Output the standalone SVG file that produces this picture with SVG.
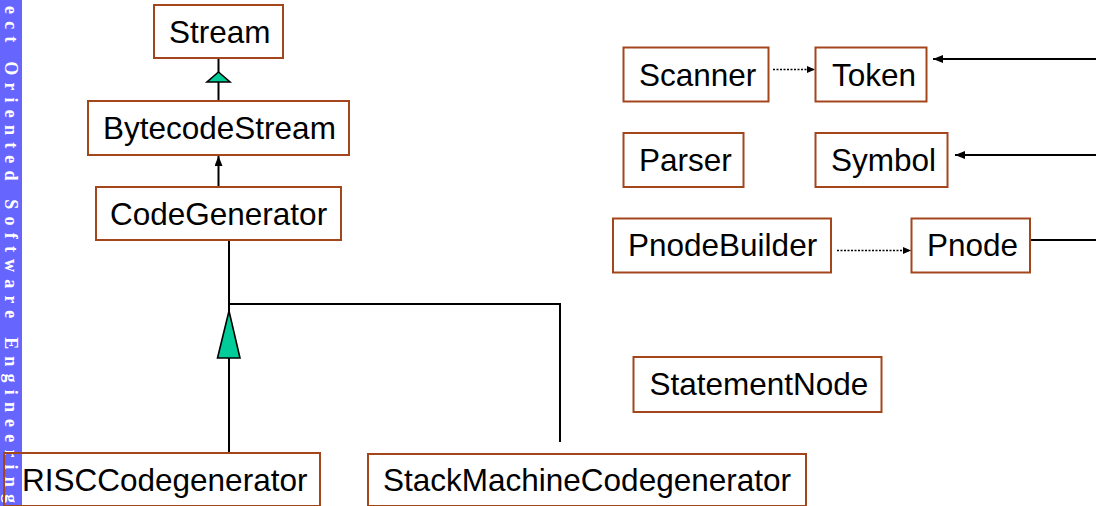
<svg xmlns="http://www.w3.org/2000/svg" width="1096" height="506" viewBox="0 0 1096 506">
<style>
.box{fill:#fff;stroke:#A4461C;stroke-width:2}
.lbl{font-family:"Liberation Sans",Arial,sans-serif;font-size:31.5px;fill:#000}
.ln{fill:none;stroke:#000;stroke-width:2}
.dot{fill:none;stroke:#000;stroke-width:1.5;stroke-dasharray:2,1.5}
.gen{fill:#00CC99;stroke:#000;stroke-width:1.6}
</style>
<defs>
<marker id="ah" markerUnits="userSpaceOnUse" markerWidth="10" markerHeight="8" refX="10" refY="4" orient="auto">
<path d="M0,0 L10,4 L0,8 z" fill="#000"/>
</marker>
<marker id="ahs" markerUnits="userSpaceOnUse" markerWidth="8" markerHeight="7" refX="8" refY="3.5" orient="auto">
<path d="M0,0 L8,3.5 L0,7 z" fill="#000"/>
</marker>
</defs>
<rect x="0" y="0" width="22" height="506" fill="#6666FF"/>
<text transform="rotate(90)" x="6" y="-4.5" textLength="497" lengthAdjust="spacing" font-family="'Liberation Serif',serif" font-weight="bold" font-size="18" fill="#fff">ect Oriented Software Engineering</text>
<g id="connectors">
<line class="ln" x1="218.5" y1="58" x2="218.5" y2="101"/>
<polygon class="gen" points="218.5,72 230,82 207,82"/>
<line class="ln" x1="218.5" y1="187" x2="218.5" y2="156" marker-end="url(#ah)"/>
<polyline class="ln" points="229,240 229,304 560,304 560,442"/>
<line class="ln" x1="229" y1="304" x2="229" y2="453"/>
<polygon class="gen" points="229,311 240,358 217.5,358"/>
<line class="dot" x1="773" y1="69.5" x2="815" y2="69.5" marker-end="url(#ahs)"/>
<line class="dot" x1="837" y1="250.5" x2="911" y2="250.5" marker-end="url(#ahs)"/>
<line class="ln" x1="1096" y1="59" x2="933" y2="59" marker-end="url(#ah)"/>
<line class="ln" x1="1096" y1="155" x2="955" y2="155" marker-end="url(#ah)"/>
<line class="ln" x1="1030" y1="240" x2="1096" y2="240"/>
</g>
<g id="stream"><rect class="box" x="154" y="5" width="129" height="53"/><text class="lbl" x="169" y="43">Stream</text></g>
<g id="bytecodestream"><rect class="box" x="88" y="101" width="261" height="54"/><text class="lbl" x="103" y="139">BytecodeStream</text></g>
<g id="codegenerator"><rect class="box" x="96" y="187" width="245" height="53"/><text class="lbl" x="110" y="224.5">CodeGenerator</text></g>
<g id="risc"><rect class="box" style="fill:none" x="4" y="453" width="316" height="53"/><text class="lbl" x="22" y="491">RISCCodegenerator</text></g>
<g id="stackmachine"><rect class="box" x="368" y="454" width="438" height="52"/><text class="lbl" x="383" y="491">StackMachineCodegenerator</text></g>
<g id="scanner"><rect class="box" x="623.5" y="47.5" width="145" height="54"/><text class="lbl" x="639" y="85.5">Scanner</text></g>
<g id="token"><rect class="box" x="815.5" y="47.5" width="111" height="54"/><text class="lbl" x="832" y="85.5">Token</text></g>
<g id="parser"><rect class="box" x="623.5" y="133" width="120" height="54"/><text class="lbl" x="639" y="171">Parser</text></g>
<g id="symbol"><rect class="box" x="815.5" y="133" width="132" height="54"/><text class="lbl" x="831" y="171">Symbol</text></g>
<g id="pnodebuilder"><rect class="box" x="613" y="218.5" width="218" height="54"/><text class="lbl" x="628" y="256">PnodeBuilder</text></g>
<g id="pnode"><rect class="box" x="911.5" y="218.5" width="118.5" height="54"/><text class="lbl" x="927" y="256">Pnode</text></g>
<g id="statementnode"><rect class="box" x="633.5" y="357" width="248" height="55"/><text class="lbl" x="649.5" y="395">StatementNode</text></g>
</svg>
